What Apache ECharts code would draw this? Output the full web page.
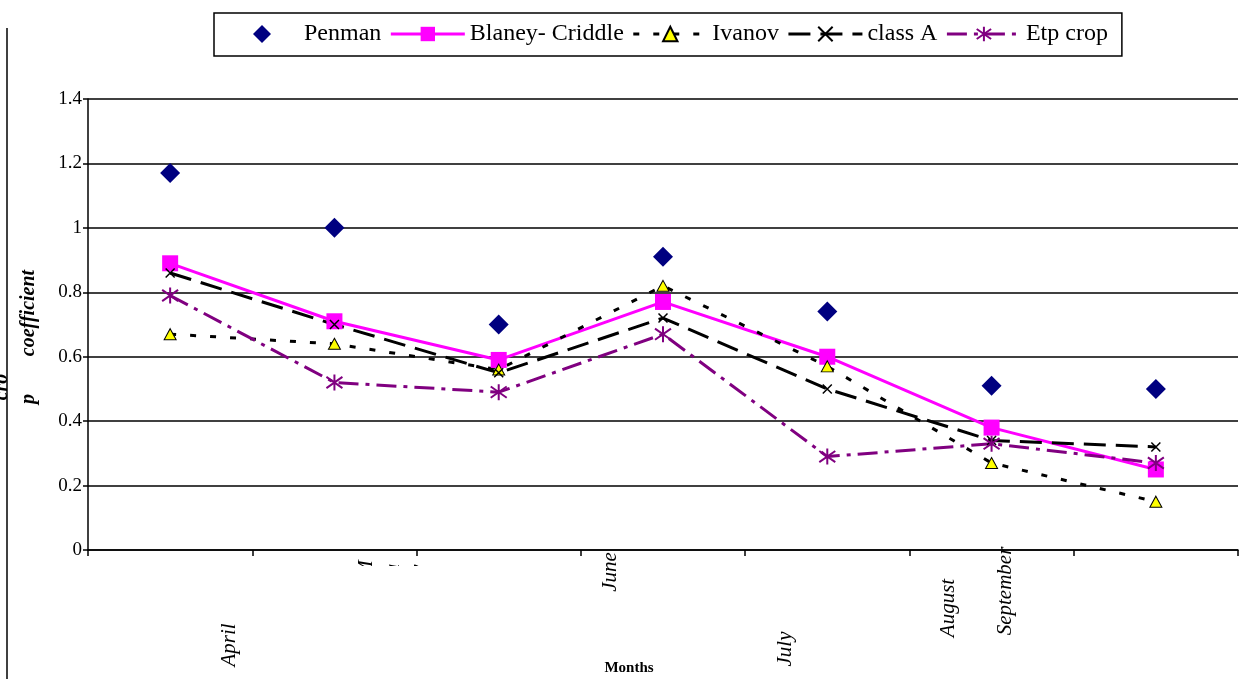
<!DOCTYPE html>
<html>
<head>
<meta charset="utf-8">
<script src="https://cdn.jsdelivr.net/npm/echarts@6/dist/echarts.min.js"></script>
<style>
  html, body { margin: 0; padding: 0; background: #fff; }
  #chart { width: 1249px; height: 679px; }
</style>
</head>
<body>
<div id="chart"></div>
<script>
// Months of the growing season (category axis)
const months = ['April', 'May', 'June', 'July', 'August', 'September', 'October'];
// Month names printed under the axis
const monthLabels = ['April', 'May', 'June', 'July', 'August', 'September'];

// Crop coefficient estimated by each method
const penman        = [1.17, 1.00, 0.70, 0.91, 0.74, 0.51, 0.50];
const blaneyCriddle = [0.89, 0.71, 0.59, 0.77, 0.60, 0.38, 0.25];
const ivanov        = [0.67, 0.64, 0.56, 0.82, 0.57, 0.27, 0.15];
const classA        = [0.86, 0.70, 0.55, 0.72, 0.50, 0.34, 0.32];
const etpCrop       = [0.79, 0.52, 0.49, 0.67, 0.29, 0.33, 0.27];

// Value axis range
const yMin = 0, yMax = 1.4, yStep = 0.2;

const SERIF = '"Liberation Serif", "Times New Roman", serif';
const DIAMOND = 'path://M0,-1L1,0L0,1L-1,0Z';
const CROSS = 'path://M-1,-1L1,1M1,-1L-1,1';
const STAR = 'path://M0,-1L0,1M-1,-0.7L1,0.7M-1,0.7L1,-0.7';

// Placement of the rotated month names below the axis
const labelSpots = {
  April: [229, 645],
  June: [610, 572],
  July: [785, 649],
  August: [948, 608],
  September: [1005, 591]
};
// "May" is printed letter by letter, only the tips show under the axis
const mayLetterX = [366, 393, 418];

const chart = echarts.init(document.getElementById('chart'));

const graphics = [];
monthLabels.forEach(function (m) {
  if (m === 'May') {
    m.split('').forEach(function (ch, i) {
      graphics.push({
        type: 'text', x: mayLetterX[i], y: 569, rotation: Math.PI / 2, z: 100,
        style: { text: ch, font: 'italic 21px ' + SERIF, fill: '#000', align: 'center', verticalAlign: 'middle' }
      });
    });
    graphics.push({
      type: 'rect', z: 101, silent: true,
      shape: { x: 352, y: 566, width: 80, height: 30 },
      style: { fill: '#fff' }
    });
    return;
  }
  const p = labelSpots[m];
  graphics.push({
    type: 'text', x: p[0], y: p[1], rotation: Math.PI / 2, z: 100,
    style: { text: m, font: 'italic 21px ' + SERIF, fill: '#000', align: 'center', verticalAlign: 'middle' }
  });
});

// Axis titles and the frame edge on the left
graphics.push(
  {
    type: 'text', x: 629, y: 668, z: 100,
    style: { text: 'Months', font: 'bold 15px ' + SERIF, fill: '#000', align: 'center', verticalAlign: 'middle' }
  },
  {
    type: 'text', x: 29, y: 313, rotation: Math.PI / 2, z: 100,
    style: { text: 'coefficient', font: 'italic bold 20px ' + SERIF, fill: '#000', align: 'center', verticalAlign: 'middle' }
  },
  {
    type: 'text', x: 29, y: 399, rotation: Math.PI / 2, z: 100,
    style: { text: 'p', font: 'italic bold 20px ' + SERIF, fill: '#000', align: 'center', verticalAlign: 'middle' }
  },
  {
    type: 'text', x: 2, y: 387, rotation: Math.PI / 2, z: 100,
    style: { text: 'cro', font: 'italic bold 20px ' + SERIF, fill: '#000', align: 'center', verticalAlign: 'middle' }
  },
  {
    type: 'line', z: 102, silent: true,
    shape: { x1: 7, y1: 28, x2: 7, y2: 679 },
    style: { stroke: '#000', lineWidth: 1.5 }
  }
);

const option = {
  backgroundColor: '#fff',
  animation: false,
  legend: {
    left: 214, top: 13,
    orient: 'horizontal',
    itemWidth: 74, itemHeight: 18, itemGap: 8,
    padding: [9, 14, 10, 39],
    borderColor: '#000', borderWidth: 1.5,
    lineStyle: { width: 3 },
    textStyle: { fontSize: 24, fontFamily: SERIF, color: '#000' },
    data: [
      { name: 'Penman', icon: DIAMOND },
      'Blaney- Criddle', 'Ivanov', 'class A', 'Etp crop'
    ]
  },
  grid: { left: 88, right: 11, top: 99, bottom: 129, containLabel: false, outerBoundsMode: 'none' },
  xAxis: {
    type: 'category',
    data: months,
    boundaryGap: true,
    axisLine: { show: true, lineStyle: { color: '#000', width: 1.5 } },
    axisTick: { show: true, interval: 0, length: 6, lineStyle: { color: '#000', width: 1.5 } },
    axisLabel: { show: false },
    splitLine: { show: false }
  },
  yAxis: {
    type: 'value',
    min: yMin, max: yMax, interval: yStep,
    axisLine: { show: true, lineStyle: { color: '#000', width: 1.5 } },
    axisTick: { show: true, length: 5, lineStyle: { color: '#000', width: 1.5 } },
    axisLabel: { color: '#000', fontSize: 19, fontFamily: SERIF, margin: 6 },
    splitLine: { show: true, lineStyle: { color: '#000', width: 1.5 } }
  },
  graphic: graphics,
  series: [
    {
      name: 'Penman', type: 'scatter', data: penman,
      symbol: DIAMOND, symbolSize: 20,
      itemStyle: { color: '#000080', opacity: 1 },
      emphasis: { disabled: true }
    },
    {
      name: 'Blaney- Criddle', type: 'line', data: blaneyCriddle,
      symbol: 'rect', symbolSize: 16, showSymbol: true, showAllSymbol: true,
      itemStyle: { color: '#FF00FF', borderColor: '#FF00FF', borderWidth: 0 },
      lineStyle: { color: '#FF00FF', width: 3 },
      emphasis: { disabled: true }
    },
    {
      name: 'Ivanov', type: 'line', data: ivanov,
      symbol: 'triangle', symbolSize: [12, 11], showSymbol: true, showAllSymbol: true,
      itemStyle: { color: '#FFFF00', borderColor: '#000', borderWidth: 1 },
      lineStyle: { color: '#000', width: 3, type: [6, 14] },
      emphasis: { disabled: true }
    },
    {
      name: 'class A', type: 'line', data: classA,
      symbol: CROSS, symbolSize: 9, showSymbol: true, showAllSymbol: true,
      itemStyle: { color: '#000', borderColor: '#000', borderWidth: 1.5 },
      lineStyle: { color: '#000', width: 3, type: [22, 10] },
      emphasis: { disabled: true }
    },
    {
      name: 'Etp crop', type: 'line', data: etpCrop,
      symbol: STAR, symbolSize: 16, showSymbol: true, showAllSymbol: true,
      itemStyle: { color: '#800080', borderColor: '#800080', borderWidth: 2 },
      lineStyle: { color: '#800080', width: 3, type: [20, 7, 4, 7] },
      emphasis: { disabled: true }
    }
  ]
};

chart.setOption(option);
</script>
</body>
</html>
